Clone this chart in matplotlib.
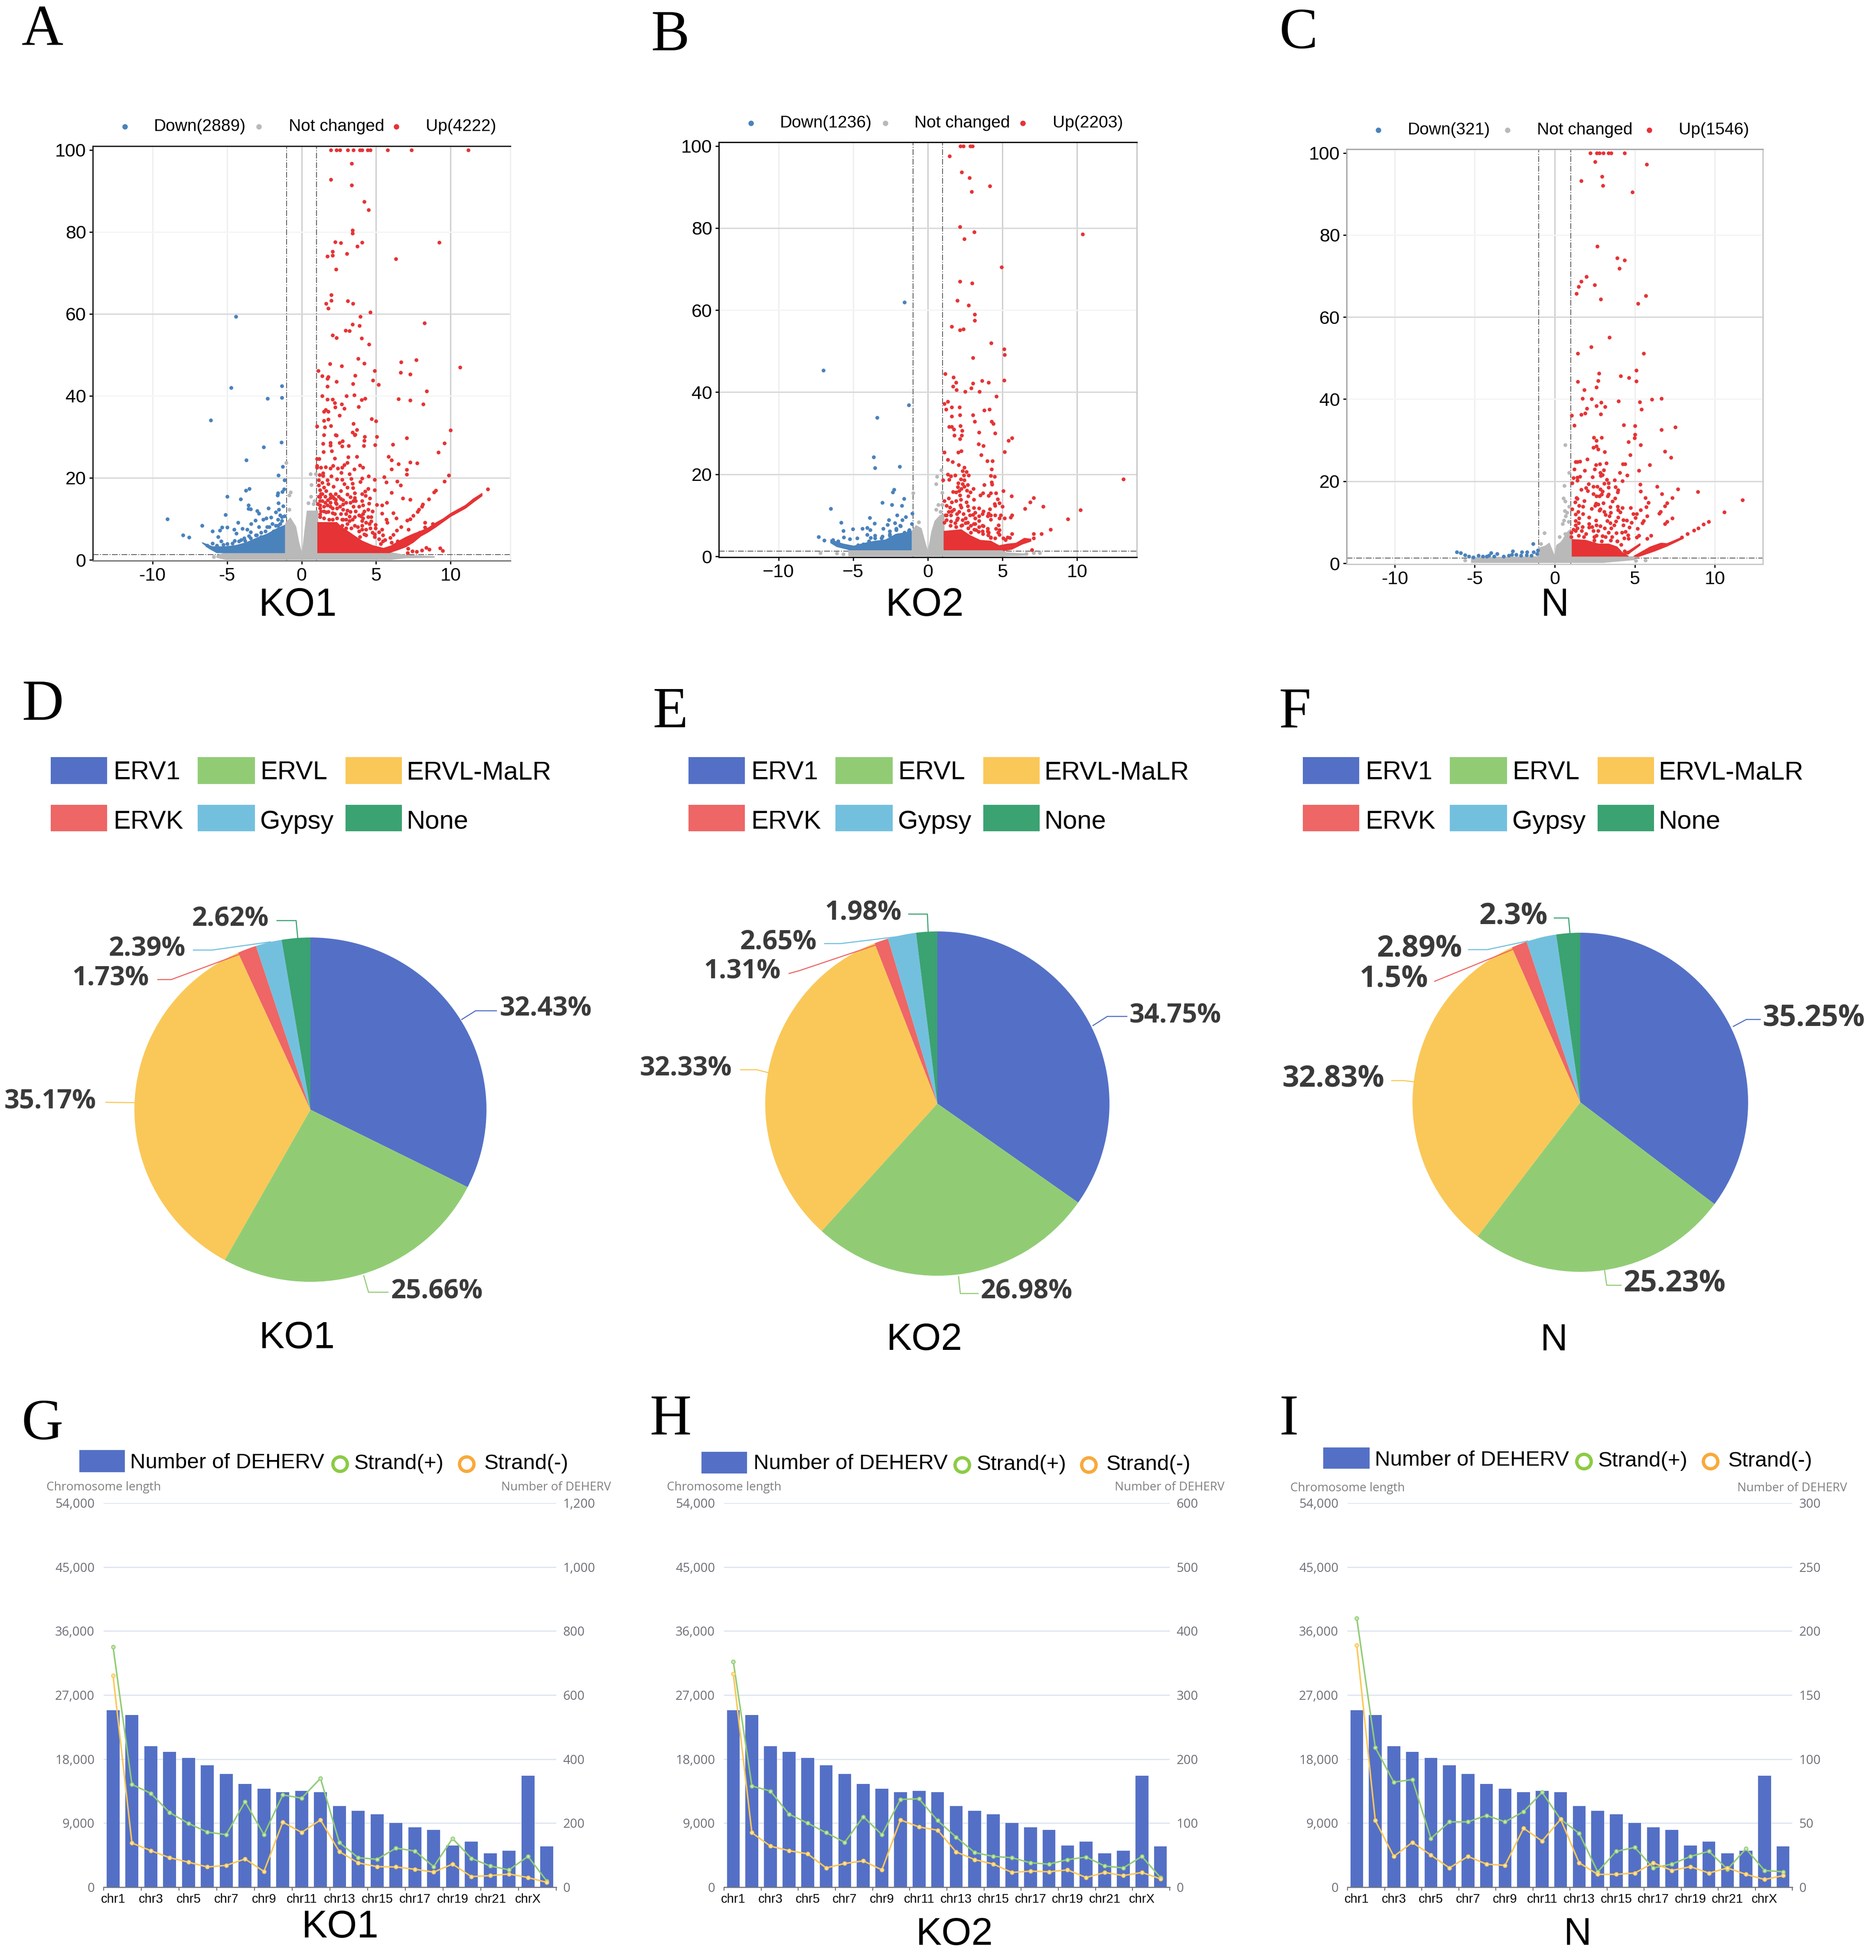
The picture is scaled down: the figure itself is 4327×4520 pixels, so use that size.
import numpy as np
import matplotlib
matplotlib.use("Agg")
import matplotlib.pyplot as plt
from matplotlib.lines import Line2D
from matplotlib.patches import Rectangle

W, H = 4327, 4520
SANS = ["Liberation Sans", "DejaVu Sans"]
plt.rcParams["font.family"] = SANS

BLUE, GREY, RED = "#4A82BC", "#B9B9B9", "#E63335"

# ---------- volcano data (log2FC, -log10 p) ----------
# KO1
ko1_top = [1.97, 2.33, 2.57, 3.1, 3.47, 3.9, 4.07, 4.43, 4.62, 5.78, 7.36, 11.17]
ko1_up = [(3.35,96.7),(1.97,92.8),(3.35,91.4),(4.19,87.4),(4.5,85.4),(3.42,80.4),(3.42,79.6),(2.24,77.5),(2.62,77.3),
    (4.07,77.4),(3.73,76.5),(9.24,77.4),(2.07,75.2),(2.07,74.3),(1.73,74),(3.03,74.7),(6.33,73.4),(2.31,70.9),(2.0,64.6),
    (2.0,63.2),(1.64,62.5),(1.8,61.3),(3.1,63.1),(3.44,62.5),(4.6,60.4),(3.95,59.3),(3.42,57.4),(3.87,57.1),(8.23,57.8),
    (2.94,56),(3.22,55.8),(2.07,54.8),(2.33,54.2),(4.02,54),(4.52,52.6),(3.78,49.1),(7.7,48.8),(6.67,48.2),(1.9,47.8),
    (4.21,47.9),(2.7,47.3),(10.64,47),(1.13,46.1),(1.37,44.9),(1.73,44.2),(1.78,44.6),(4.89,46.1),(6.64,45.7),(7.27,45.3),
    (3.59,45),(2.33,43.5),(4.79,43.8),(3.44,43),(5.15,42.7),(1.73,42.3),(8.4,41.1),(3.54,40.2),(3.0,40),(1.37,40),(4.26,39.3),
    (6.5,39.2),(7.27,38.9),(1.73,39.1),(2.09,39.1),(4.02,39),(2.21,38.3),(2.7,38),(8.16,38),(3.83,37.3),(2.86,36.9),(2.26,37.2),
    (1.61,36.6),(1.78,36.2),(1.49,36.2),(2.53,35.2),(4.69,34.4),(4.98,33.8),(1.8,34.3),(1.49,34),(3.47,33.2),(1.97,32.7),
    (1.56,32.4),(1.03,32.6),(9.99,31.6),(3.71,31.7),(3.42,31.1),(3.59,30.6),(2.33,30.4),(1.51,30.5),(2.28,30.5),(3.55,30.5),
    (4.22,30),(4.19,29.1),(5.04,30),(7.05,29.7),(9.58,28.5),(2.74,29),(2.54,28.6),(1.93,28.6),(1.44,28.4),(1.93,27.9),(2.71,27.7),
    (3.16,27.8),(4.16,27.8),(4.92,28),(6.11,28.1),(1.48,26.3),(2.02,26.6),(9.18,26.2),(1.02,24.7),(1.19,24.6),(2.21,24.8),
    (3.13,25.1),(3.72,25.2),(5.84,25.2),(6.04,24.3),(6.49,23.4),(7.29,23.8),(7.74,23.6),(3.06,23.7),(3.91,23.1),(4.12,22.5),
    (1.02,23),(1.02,22.5),(1.3,22.5),(1.62,22.6),(1.93,22.3),(2.1,23),(2.43,22.3),(2.71,22.5),(2.85,23.2),(3.53,22.1),(6.02,22.1),
    (7.05,22),(7.04,20.8),(9.86,20.6),(1.44,21.2),(2.67,21.3),(1.2,20.7),(1.44,20.5),(3.2,20.9),(2,20.4),(4.5,20.4),(5.53,20.2),
    (4.89,19.6),(3.34,19.8),(4.05,19.9),(2.36,19.7),(2.71,19.6),(1.16,19.5),(1.72,19.5),(9.58,19.2),(6.4,19.1),(5.67,18.9),(3.95,19),
    (1.37,18.8),(3.41,18.6),(2.85,18.5),(6.63,18.2),(1.79,18.5),(1.16,18.2),(2.14,17.9),(3.06,17.7),(3.46,17.6),(1.51,17.7),
    (4.47,17.4),(4.89,17),(4.26,16.7),(2.64,16.8),(1.23,17),(9.01,16.9),(8.87,16.5),(6.02,16.4),(3.55,16.3),(4.05,16.1),(1.93,16),
    (1.37,16.1),(3.06,16),(4.3,15.7),(2.64,14.9),(6.8,15),(4.58,15),(3.27,15.3),(3.55,15.1),(7.29,14.7),(8.53,14.8),(1.93,15.1),
    (1.23,15.3),(2.28,14.7),(2.78,14.6),(4.05,14.4),(3.62,14.4),(5.71,14),(4.51,13.8),(3.27,14),(1.93,14),(1.58,14),(1.09,13.7),
    (2.33,13.7),(2.78,13.5),(8.14,13.5),(4.12,13.3),(5.04,13.4),(5.39,13.3),(8.07,13),(3.48,13),(1.51,13),(1.93,13),(1.23,12.6),
    (2.36,12.6),(2.78,12.3),(3.06,12.1),(3.62,11.9),(4.47,12.3),(4.75,11.9),(7.79,11.8),(7.86,12.3),(1.65,11.6),(2.07,11.4),(5.39,11.3),
    (6.16,11.4),(4.12,11.2),(7.5,10.8),(1.23,11.1),(4.47,10.5),(3.98,10.7),(3.2,10.6),(3.55,10.5),(6.35,10.2),(7.29,10),(7.08,9.6),
    (5.67,9.8),(5.74,9.1),(4.68,9.4),(4.05,9.5),(3.2,9.5),(2.78,9.8),(2.07,9.8),(8.28,9.1),(8.8,8.8),(4.96,8.6),(4.54,8.8),(4.05,8.4),
    (3.55,8.4),(3.06,8.8),(8.28,7.9),(6.66,8.1),(5.39,7.4),(6.38,7.2),(7.18,7.4),(4.75,6.7),(5.18,6.8),(3.84,7),(4.33,7.4),(7.93,6.7),
    (5.46,6),(6.16,6.1),(5.95,5.4),(4.89,5.6),(4.33,6),(5.46,4.6),(8.35,3),(8.56,2.6),(8.07,2.3),(7.15,2.8),(7.43,2.1),(7.72,2),
    (7.12,1.75),(9.29,2.9),(9.46,2.2),(12.5,17.3),
    (1.23,14.4),(1.23,13.3),(1.3,11.9),(1.23,10.5),(1.51,11.9),(1.51,10.2),(1.72,13.3),(1.79,11.8),(1.86,9.8),(2.07,12.6),(2.21,11.2),
    (2.28,14),(2.36,10.2),(2.57,13),(2.64,11.2),(2.71,9.8),(2.99,11.2),(2.99,9.8),(3.27,11.8),(3.41,9.8),(3.84,10.9),(4.12,10.2),
    (1.3,16.1),(1.58,15.4),(2.07,15.4),(2.28,16.1),(1.65,16.8),(1.14,15.4),(1.39,14.4),(1.76,14.6),(2.18,15),(2.5,15.4),(2.99,14),
    (3.48,14.4),(3.84,13),(4.19,11.9),(4.68,10.5),(4.33,9.1),(4.96,7.7),(4.61,7.7),(3.76,8.1),(4.05,7.4),(3.34,7.7),(2.99,7.7),(2.71,8.4),
    (4.19,6.3),(3.9,5.6),(4.89,6.3),(5.18,5.1),(5.6,4.9),(5.32,3.9),(6.02,4.2),(6.45,4.6)]
ko1_down = [(-4.4,59.3),(-4.72,42),(-1.32,42.4),(-2.29,39.4),(-1.32,39.6),(-6.09,34.1),(-1.35,28.7),(-2.55,27.5),(-3.72,24.3),(-1.27,22.7),
    (-1.55,20.6),(-1.14,19.5),(-3.74,16.9),(-3.5,17.4),(-4.98,15.4),(-4.09,14.8),(-1.17,17.2),(-1.28,16.6),(-1.59,16.3),(-1.62,15.8),
    (-1.55,13.9),(-3.57,13.3),(-1.24,13.1),(-3.57,12.5),(-3.43,12.4),(-2.23,12.6),(-2.98,12),(-2.86,11.3),(-1.52,12.3),(-1.73,11.6),
    (-5.09,11),(-9.0,9.9),(-6.67,8.4),(-7.94,6),(-7.55,5.5),(-5.97,7),(-5.47,7.2),(-5.33,7.9),(-5.0,7.9),(-5.6,5.6),(-5.4,4.6),(-4.53,7.4),
    (-4.37,6.5),(-3.96,7.6),(-4.25,9.1),(-3.64,7.4),(-3.4,8.8),(-3.1,9.6),(-2.86,8),(-3.43,6.8),(-3.54,5.8),(-3.85,5.3),(-2.58,9.8),
    (-2.37,10.2),(-2.06,10.4),(-2.3,8.1),(-1.95,8.8),(-1.59,9.8),(-1.31,10.5),(-1.45,10.9),(-1.14,10.7),(-1.73,8.4),(-2.72,6.7),(-2.37,5.8),
    (-3.07,6),(-5.97,4),(-4.98,3.9),(-4.49,4.7),(-4.06,4.9),
    (-2.72,5.6),(-2.44,7),(-2.16,8.1),(-1.88,7),(-1.59,8.4),(-1.31,9.5),(-1.45,8.8),(-3,6),(-3.43,5.3),(-3.78,4.7),(-4.2,4.6),(-4.63,4),(-5.26,3.7),(-5.68,3.5),(-6.32,3.5)]
ko1_ns = [(.59,20.9),(.94,20.9),(.66,18.3),(.62,15.5),(-.75,16.5),(-.82,15.8),(-1.03,23.7),(-.82,12.3),(.45,13.9),(.8,13.7),(.87,14.4),(-5.9,.7)]
ko1_up_mass = [(1.09,1.75),(1.09,9.1),(2.36,9.1),(2.64,8.1),(3.48,6),(4.05,4.6),(4.75,3.5),(5.5,2.8),(6,3.4),(6.5,4.5),(7,5.5),(7.5,6.3),(8,7),(8.5,7.8),
    (9,9),(9.5,10),(10,11.3),(10.5,12.3),(11,13.3),(11.5,14.8),(12.1,16.2),(12.1,15.6),(11.5,14),(11,12.6),(10.5,11.6),(10,10.6),(9.5,9.3),(9,8),
    (8.5,6.8),(8,5.8),(7.5,4.3),(7,3.2),(6.5,2.5),(5.88,1.75)]
ko1_down_mass = [(-6.67,4.2),(-5.97,3.2),(-5.12,3.2),(-4.4,3.5),(-3.7,4.2),(-3,5.3),(-2.3,6.3),(-1.6,7.7),(-1.14,8.4),(-1.14,1.75),(-5.68,1.75),(-6.2,2.8)]
ko1_ns_mass = [(-5.68,.6),(-5.68,1.0),(-5.1,1.75),(-1.14,1.75),(-1.14,8),(-1.03,9.1),(-.75,10.2),(-.39,8.1),(-.18,4.2),(0,1.75),(.07,2.1),(.24,7.7),(.38,11.9),
    (1.09,11.9),(1.09,1.75),(6,1.75),(7,1.1),(8.9,.8),(8.9,.6),(7,.5),(6,.1),(-5.1,.1)]

# KO2
ko2_top = [2.19, 2.38, 2.84, 2.98]
ko2_up = [(1.44,97.5),(2.26,93.6),(2.79,92.2),(4.14,90.2),(2.94,88.9),(2.14,80.3),(3.1,79),(10.37,78.5),(2.45,77.3),(4.93,70.5),(2.14,67),(2.96,66.6),
    (1.97,62.3),(2.72,61.2),(3.15,59),(3.13,57.5),(1.61,56),(2.14,55.2),(2.38,55.4),(4.24,52),(5.1,50.5),(5.15,49.1),(3.01,48.4),(1.16,44.5),(1.71,43.6),
    (1.9,42.4),(3.01,42.2),(3.63,42.8),(4.07,42.4),(5.1,42.9),(1.68,41.4),(1.93,40.6),(2.91,41),(2.5,40.2),(3.47,40.2),(4.6,39),(1.35,37.7),(1.11,37.2),
    (1.59,36.4),(1.23,35.8),(2.12,36.4),(3.78,35.6),(4.12,35.8),(1.61,34.1),(2.14,34.5),(3.03,34.4),(3.13,32.9),(4.26,32.9),(4.38,32.3),(1.42,31.6),(1.61,31.6),
    (2.17,31.8),(1.73,31),(2.29,30.7),(3.42,30.2),(4.5,30),(1.76,29.5),(2.26,29.5),(2.14,28.6),(5.63,28.9),(5.39,28.2),(3.39,27.4),(3.73,27),(1.11,25.4),(2.02,25.4),
    (2.24,25.7),(5.13,25.5),(3.56,24.7),(1.35,23.6),(1.66,23),(3.97,23.3),(4.33,23.2),(2.05,22.3),(4.28,21.2),(2.43,21.7),(2.33,20.8),(2.58,20.6),(13.1,18.8),
    (1.33,20),(1.54,19.6),(1.82,19.8),(2.41,19.8),(2.74,19.8),(4.22,19.7),(4.46,19.5),(1.02,18.6),(1.42,18.7),(2.2,18.8),(2.45,18.6),(2.03,17.9),(4.26,18.1),(3.77,17.4),
    (4.29,17.5),(2.31,17.7),(2.67,17.4),(2.45,17),(1.99,16.9),(2.24,16.5),(3.05,16.5),(2.6,16.1),(2.1,16),(5.04,16),(1.68,15.8),(1.89,15.6),(2.84,15.6),(3.68,15.4),(4.22,15.4),
    (4.57,15.4),(3.51,14.9),(2.14,14.9),(2.69,14.7),(4.08,14.8),(5.6,14.7),(7.08,14.3),(1.4,14.2),(4.68,14),(3.09,13.9),(2.2,13.8),(1.11,13.5),(1.89,13.5),(1.61,13.2),(6.85,13.2),
    (2.58,13.2),(4.78,13),(4.46,12.8),(2.17,12.5),(2.67,12.3),(1.26,12.4),(4.5,12.4),(5.01,12.2),(7.73,12.2),(1.47,11.9),(2.24,11.9),(3.44,11.7),(3.09,11.8),(6.5,11.6),(10.21,11.3),
    (1.75,11.4),(4.15,11.5),(1.4,10.9),(2.1,10.9),(2.74,11.2),(3.16,10.7),(3.72,11),(4.08,10.5),(1.18,10),(1.54,10),(2.81,10),(3.44,9.8),(4.22,10),(4.5,10),(4.88,10),(5.63,10),
    (5.56,9.5),(5.13,9.3),(4.78,9.3),(4.22,9),(2,9.3),(2.31,8.9),(3.16,9.3),(3.44,8.7),(9.37,9.1),(1.11,8.2),(1.82,8.1),(2.52,8.1),(4.74,7.6),(3.09,7.9),(3.65,7.5),(4.01,6.8),
    (4.57,6.8),(4.78,6.5),(8.21,6.6),(4.08,5.8),(4.71,5.8),(7.08,5.5),(7.62,5.5),(5.63,5.5),(4.78,5.3),(5.35,4.7),(5.06,4.4),(7.08,4.5),(4.22,4.6),(6.97,1.6),
    (1.5,7.5),(1.9,7.2),(2.3,7.6),(2.7,6.9),(3.1,6.6),(3.4,6),(3.7,5.5),(4.05,5.2),
    (1.26,8.9),(1.54,8.6),(1.96,8.9),(2.24,7.5),(2.67,8.2),(2.88,7.5),(3.16,7.9),(3.44,7.2),(3.72,7.4),(4.01,6.1),(3.65,6.1),(3.23,6.5),(2.88,5.8),(4.22,4.7),(4.5,4.4),(5.2,4),(5.49,4.6),
    (1.26,10),(1.61,11),(1.96,10.4),(2.38,10.4),(2.52,9.3),(3.02,10.2),(3.65,10.4),(4.01,9.8)]
ko2_down = [(-1.56,61.9),(-7,45.3),(-1.28,36.9),(-3.39,33.8),(-3.63,24.2),(-3.54,21.6),(-1.9,21.9),(-2.27,16.3),(-2.34,15.6),(-1.59,14.1),(-3.05,13.1),(-2.41,12.6),(-1.75,12.4),
    (-6.5,11.6),(-1.04,10.5),(-2.06,10),(-1.47,9.6),(-3.89,9.4),(-1.71,8.9),(-2.62,8.9),(-5.8,8.2),(-3.57,8),(-2.2,8.1),(-2.69,7.7),(-1.07,7.9),(-5.02,6.7),(-4.39,6.8),(-4.08,7),
    (-3.86,6.5),(-2.98,6.8),(-1.82,7.4),(-2.13,6.5),(-5.66,6.2),(-2.55,6.1),(-1.26,6.5),(-7.32,4.8),(-6.95,3.9),(-5.63,4.7),(-5.23,4.2),(-4.74,4.4),(-4.08,5.3),(-3.54,5.1),(-3.05,4.9),
    (-3.82,4.6),(-2.55,5.4),
    (-2.55,5.1),(-2.13,6.8),(-1.85,7.5),(-1.57,5.8),(-1.28,6.1),(-3.54,4.4),(-3.12,4.4),(-3.96,3.7),(-4.32,3),(-4.67,2.8),(-6.36,4),(-6,3.7)]
ko2_ns = [(.9,21),(.62,19.5),(.55,17.7),(.97,15.5),(-1,15.4),(.69,12.6),(.97,12.6),(.55,11.4),(.83,10.9),(-.61,8.4),(-7.2,.9),(-6.1,.7),(-5.65,.5),(7.1,.9),(7.5,.9),(6.6,.6)]
ko2_up_mass = [(1.09,1.6),(1.09,6.1),(2.24,6.5),(2.81,5.1),(3.51,3.9),(4.22,3.7),(4.78,2.6),(5.35,3),(5.91,3.2),(6.47,4.4),(6.9,4.2),(6.9,3.7),(6.33,3),(5.63,1.75),(5.06,1.4),(5.06,1.6)]
ko2_down_mass = [(-6.5,4),(-5.66,3),(-4.95,2.5),(-4.25,3.2),(-3.54,3.7),(-2.83,4),(-2.13,5.4),(-1.42,5.8),(-1.11,6.1),(-1.11,1.6),(-5.23,1.6),(-6.1,2.4),(-6.5,3.3)]
ko2_ns_mass = [(-5.3,.1),(-5.3,1.6),(-1.07,1.6),(-1.07,6.1),(-.79,7.5),(-.44,6.8),(-.16,3),(0,1.2),(.06,1.9),(.27,6.1),(.48,8.6),(.83,10),(1.09,10.3),(1.09,1.6),(5.1,1.6),(5.2,.9),(6.5,.6),(6.5,.3),(5.1,.1)]

# N
n_top = [2.21, 2.62, 2.8, 3.02, 3.36, 3.53, 4.36]
n_up = [(2.51,97.8),(5.73,97.2),(1.66,93.2),(2.95,94.2),(3,92),(4.85,90.4),(2.66,77.2),(3.89,74.4),(4.36,73.9),(4.03,71.9),(1.99,69.8),(1.66,68.7),(1.5,67.4),(2.48,67.8),(1.36,65.7),
    (5.68,65.2),(2.86,64.4),(5.19,63.3),(3.42,55.1),(2.28,52.7),(1.43,51.1),(5.55,51.1),(5.1,47),(2.77,46.3),(4.12,45.7),(4.63,45.2),(2.71,44.5),(1.43,44.3),(5.1,44.4),(2.6,42.9),(1.83,42.3),
    (1.72,40.2),(2.3,40),(6.08,39.9),(6.67,40.2),(3.98,39.5),(2.91,39.2),(5.3,39.3),(2.6,38.4),(3.15,38.1),(5.41,37.5),(2.01,37.7),(1.9,36.6),(1.66,36.2),(2.86,36.4),(1.05,36),(1.23,33.6),
    (4.3,33.7),(5.01,33.5),(7.52,33.2),(6.67,32.6),(5,31.4),(2.43,30.7),(2.92,30.6),(2.59,29.9),(4.97,30.5),(4.6,29.6),(5.36,28.8),(2.4,28.2),(2.59,28.5),(2.72,27.8),(3.11,27.2),(6.89,27.3),
    (4.7,26.4),(7.25,25.8),(2.04,25.4),(1.29,24.7),(1.42,24.7),(1.58,24.8),(3.22,24.4),(2.57,24),(2.83,24.2),(4.24,24.2),(4.39,24.2),(5.94,24),(1.22,22.9),(1.88,22.6),(2.5,22.9),(3.05,22.7),
    (5.25,22.6),(4.05,22.1),(2.85,22.1),(2.98,21.6),(2.88,21.4),(4.52,21.5),(1.58,21.1),(1.42,20.9),(1.16,20.8),(2.36,21),(1.42,20.2),(3.24,20.4),(3.74,20.3),(4.23,20.1),(1.07,19.6),(3.09,19.5),
    (3.37,19.6),(2.11,19.3),(5.33,19.2),(6.38,18.7),(2.4,18.7),(2.66,18.7),(3.37,18.5),(3.79,18.6),(7.7,18.1),(1.94,18.4),(2.85,18.1),(1.65,18),(2.07,17.7),(3.96,17.9),(5.36,17.6),(2.98,17.5),
    (8.95,17.4),(3.92,17.3),(6.68,16.9),(2.4,16.9),(2.92,16.8),(3.37,16.8),(2.59,16.4),(2.79,16.4),(3.31,16.4),(1.35,16),(5.65,16),(7.33,16),(3.76,15.9),(1.42,15.8),(11.74,15.4),(1.84,15.2),
    (3.61,15.1),(1.26,14.9),(5.86,14.8),(7.02,14.7),(3.02,14.7),(2.57,14.6),(2.72,14.4),(2.53,14.1),(1.52,14.1),(1.77,13.9),(6.89,14),(3.93,13.9),(5.72,13.7),(3.46,13.7),(4.22,13.5),(4.74,13.5),
    (3.96,13),(2.29,13.3),(1.09,13.2),(2.85,13.2),(5.36,13),(2.79,12.9),(1.46,12.6),(3.09,12.6),(6.6,12.6),(4.09,12.5),(10.6,12.5),(3.5,12.4),(1.29,11.9),(4.9,12.1),(5.13,12.1),(1.77,12.1),
    (6.52,12.2),(3.18,11.8),(3.4,11.5),(5.77,11.5),(3.96,11.2),(2.14,11.2),(5.04,11.1),(7.33,11),(1.51,11),(2.57,10.5),(4.28,10.6),(4.5,10.5),(3.83,10.3),(3.28,10.4),(5.55,10.4),(9.62,10.2),
    (7.02,10.2),(6.89,9.6),(3.46,9.8),(4.8,9.9),(5.46,9.8),(3.7,9.3),(4.28,9.3),(9.3,9.5),(4.67,8.8),(3.53,8.6),(5.17,8.5),(4.41,7.7),(3.85,7.4),(4.19,7.5),(4.57,6.9),(6.02,6.8),(5.26,6.8),
    (4.34,6.1),(5.13,6.3),(5.78,6),(3.89,5.4),(4.6,6),(1.29,10.4),(1.48,9.8),(1.29,9.3),(1.74,8.9),(1.42,8.6),(1.16,8.2),(1.03,7.5),(1.29,7.9),(1.68,7.9),(1.94,7.2),(1.03,6.5),(1.48,6.8),(1.81,6.5),
    (2.14,9.6),(2.33,8.9),(2.59,9.3),(2.85,9.1),(3.11,8.6),(3.37,7.5),(3.57,6.5),(2.14,8.8),(2.4,7.9),(2.72,7.9),(3.18,6.5),(2.46,6.5),(2.59,6.8),(2.98,6.7),(3.5,5.6),(3.89,5.4),(2.46,5.6),(2.92,5.4),
    (4.15,4.6),(4.35,3),(4.54,2.6),(7.93,6.3),(8.3,7.2),(8.7,8),(8.97,8.6)]
n_down = [(-6.13,2.8),(-5.87,2.5),(-5.61,2),(-5.35,1.65),(-5.09,1.5),(-4.77,1.9),(-4.5,1.7),(-4.24,1.75),(-3.98,2.5),(-4.11,1.9),(-3.59,2.3),(-3.79,1.75),(-3.2,1.75),(-2.88,1.9),(-2.63,3),(-2.68,2.1),
    (-2.42,2.1),(-2.07,2.8),(-2.1,1.9),(-1.73,2.8),(-1.77,2),(-1.32,2.8),(-1.35,4.8),(-1.45,1.9),(-1.12,2.3),(-1.05,3.2)]
n_ns = [(.64,28.8),(.6,18.9),(.9,22.1),(.53,15.9),(.66,15.1),(.61,12.8),(.77,12.4),(.68,11.5),(.57,10.5),(.87,10.2),(.48,9.6),(.9,13.9),(-.66,7.4),(.31,6.5),(.64,7.2),(-.86,4.8),(5.07,.6),(5.65,.7),(-5.6,.7)]
n_up_mass = [(1.09,1.75),(1.09,5.8),(1.94,5.6),(2.72,4.7),(3.37,4.7),(3.89,4),(4.22,2.6),(4.6,1.75)]
n_tail = [(4.93,1.7),(5.98,4),(6.63,4.9),(7.02,4.8),(7.93,6.3),(7.93,5.9),(7.02,4.2),(6.24,3),(5.2,1.6)]
n_streak = [(4.35,2.3),(5.33,4.8),(5.33,4.4),(4.6,2.3)]
n_ns_mass = [(-5.2,.2),(-5.2,1.4),(-1.05,1.6),(-1,3.7),(-.6,4.2),(-.34,4.9),(-.14,3),(0,1.6),(.12,4.4),(.38,5.1),(.51,5.8),(.77,7.5),(.96,8.2),(1.05,6.5),(1.09,1.7),(4.9,1.6),(5,.9),(3,.2)]

# ---------- pie data ----------
pie_names = ["ERV1", "ERVL", "ERVL-MaLR", "ERVK", "Gypsy", "None"]
pie_colors = ["#5470C6", "#91CC75", "#FAC858", "#EE6666", "#73C0DE", "#3BA272"]
pie_ko1 = [32.43, 25.66, 35.17, 1.73, 2.39, 2.62]
pie_ko2 = [34.75, 26.98, 32.33, 1.31, 2.65, 1.98]
pie_n = [35.25, 25.23, 32.83, 1.5, 2.89, 2.3]

# ---------- chromosome data ----------
chroms = ["chr%d" % i for i in range(1, 23)] + ["chrX", "chrY"]
chrom_len = [24850, 24210, 19810, 19020, 18180, 17140, 15910, 14520, 13830, 13340, 13540, 13340,
             11410, 10720, 10230, 9040, 8400, 8050, 5880, 6420, 4740, 5090, 15660, 5730]
ko1_plus = [751, 321, 293, 233, 199, 172, 164, 267, 164, 288, 278, 340, 139, 92, 87, 122, 113, 64, 152, 90, 66, 54, 96, 19]
ko1_minus = [661, 138, 114, 92, 78, 63, 68, 88, 49, 203, 171, 210, 111, 76, 64, 63, 56, 47, 72, 33, 36, 41, 30, 15]
ko2_plus = [352, 158, 150, 114, 100, 85, 70, 110, 82, 137, 138, 104, 78, 54, 48, 46, 38, 36, 43, 47, 33, 30, 48, 15]
ko2_minus = [333, 85, 64, 57, 52, 30, 37, 41, 27, 105, 94, 89, 55, 43, 36, 23, 25, 24, 27, 15, 23, 18, 23, 13]
n_plus = [210, 109, 82, 84, 38, 51, 51, 56, 51, 59, 74, 53, 42, 12, 28, 31, 15, 18, 24, 28, 14, 30, 13, 12]
n_minus = [189, 52, 24, 35, 25, 15, 24, 18, 17, 46, 36, 53, 19, 10, 10, 11, 19, 13, 16, 11, 15, 10, 6, 9]

fig = plt.figure(figsize=(W / 100, H / 100), dpi=100)


def fx(x):
    return x / W


def fy(y):
    return 1 - y / H


def axes_px(left, top, right, bottom):
    return fig.add_axes([fx(left), fy(bottom), (right - left) / W, (bottom - top) / H])


def put_text(x, y, s, size, ha="left", va="center", **kw):
    fig.text(fx(x), fy(y), s, fontsize=size, ha=ha, va=va, **kw)


def put_line(xs, ys, color, lw=2.0):
    fig.add_artist(Line2D([fx(v) for v in xs], [fy(v) for v in ys], color=color, lw=lw, transform=fig.transFigure))


def put_rect(x0, y0, x1, y1, color):
    fig.add_artist(Rectangle((fx(x0), fy(y1)), (x1 - x0) / W, (y1 - y0) / H, color=color, lw=0, transform=fig.transFigure))


def put_dot(x, y, color, size=10, mfc=None, mew=0):
    fig.add_artist(Line2D([fx(x)], [fy(y)], marker="o", ms=size, color=color, mfc=mfc or color, mew=mew, ls="none", transform=fig.transFigure))


# panel letters
for s, x, y in [("A", 98, 70), ("B", 1546, 84), ("C", 2995, 78), ("D", 98, 1627), ("E", 1546, 1645), ("F", 2986, 1645),
                ("G", 98, 3286), ("H", 1546, 3275), ("I", 2972, 3275)]:
    put_text(x, y, s, 96, ha="center", family=["Liberation Serif"])


def volcano(box, lim, up, top, down, ns, up_polys, down_polys, ns_poly, strong_x, strong_y, spine_colors, minus, title, title_xy, legend):
    ax = axes_px(*box)
    ax.set_xlim(-lim, lim)
    ax.set_ylim(-0.2, 100.9)
    for v in [-10, -5, 0, 5, 10]:
        ax.axvline(v, color="#CFCFCF" if v in strong_x else "#EFEFEF", lw=2.2, zorder=0)
    for v in [20, 40, 60, 80]:
        ax.axhline(v, color="#D8D8D8" if v in strong_y else "#F5F5F5", lw=2.2, zorder=0)
    for v in [-1, 1]:
        ax.axvline(v, color="#666666", lw=1.5, ls="-.", zorder=1)
    ax.axhline(1.3, color="#666666", lw=1.5, ls="-.", zorder=1)

    ax.fill(*zip(*ns_poly), color=GREY, lw=1.5, zorder=2)
    for poly in down_polys:
        ax.fill(*zip(*poly), color=BLUE, lw=1.5, zorder=3)
    for poly in up_polys:
        ax.fill(*zip(*poly), color=RED, lw=1.5, zorder=3)
    ax.scatter(*zip(*ns), s=40, color=GREY, lw=0, zorder=2, clip_on=False)
    ax.scatter(*zip(*down), s=40, color=BLUE, lw=0, zorder=3)
    ax.scatter(*zip(*up), s=40, color=RED, lw=0, zorder=3)
    ax.scatter(top, [100] * len(top), s=40, color=RED, lw=0, zorder=3)

    ax.set_xticks([-10, -5, 0, 5, 10])
    ax.set_xticklabels([("\u2212%d" % -v if minus else "-%d" % -v) if v < 0 else str(v) for v in [-10, -5, 0, 5, 10]])
    ax.set_yticks([0, 20, 40, 60, 80, 100])
    ax.tick_params(labelsize=31, length=6, width=2, pad=5)
    for side, c in spine_colors.items():
        ax.spines[side].set_color(c)
        ax.spines[side].set_linewidth(2.2)

    put_text(title_xy[0], title_xy[1], title, 65, ha="center")
    dots, texts, y, labels = legend
    for d, c in zip(dots, [BLUE, GREY, RED]):
        put_dot(d, y, c, size=9)
    for t, s in zip(texts, labels):
        put_text(t - 3, y, s, 28)


volcano((214, 337, 1177, 1293), 14, ko1_up, ko1_top, ko1_down, ko1_ns, [ko1_up_mass], [ko1_down_mass], ko1_ns_mass,
        [0, 5, 10], [20, 60], {"left": "#222222", "top": "#222222", "bottom": "#777777", "right": "#EEEEEE"}, False,
        "KO1", (687, 1396), ([288, 597, 914], [358, 669, 985], 292, ["Down(2889)", "Not changed", "Up(4222)"]))
volcano((1658, 328, 2622, 1285), 14, ko2_up, ko2_top, ko2_down, ko2_ns, [ko2_up_mass], [ko2_down_mass], ko2_ns_mass,
        [0, 5, 10], [20, 40, 80], {"left": "#111111", "top": "#111111", "bottom": "#111111", "right": "#C8C8C8"}, True,
        "KO2", (2133, 1396), ([1732, 2042, 2359], [1802, 2112, 2431], 284, ["Down(1236)", "Not changed", "Up(2203)"]))
volcano((3106, 344, 4066, 1301), 13, n_up, n_top, n_down, n_ns, [n_up_mass, n_tail, n_streak], [], n_ns_mass,
        [0], [20, 60], {"left": "#A8A8A8", "top": "#A8A8A8", "bottom": "#C8C8C8", "right": "#C8C8C8"}, False,
        "N", (3586, 1396), ([3179, 3477, 3804], [3250, 3548, 3875], 300, ["Down(321)", "Not changed", "Up(1546)"]))


def pie_panel(values, cx, cy, rx, ry, label_pos, leaders, size, legend_dx, title, title_xy):
    ax = axes_px(cx - rx - 4, cy - ry - 3, cx + rx - 4, cy + ry - 3)
    ax.pie(values, colors=pie_colors, startangle=90, counterclock=False, radius=1, wedgeprops={"linewidth": 0})
    ax.set_xlim(-1, 1)
    ax.set_ylim(-1, 1)
    ax.set_aspect("auto")
    for v, (x, y), path, c in zip(values, label_pos, leaders, pie_colors):
        put_text(x - 5, y + 3, "%g%%" % v, size, ha="center", family=["Open Sans"], fontweight="bold", color="#3A3A3A")
        put_line(path[0], path[1], c, lw=1.8)
    cols = [(117, 247, 261), (456, 588, 600), (797, 927, 937)]
    for i, name in enumerate(pie_names):
        col = cols[i % 3]
        row = i // 3
        y0, y1 = (1746, 1808) if row == 0 else (1856, 1917)
        put_rect(col[0] + legend_dx, y0, col[1] + legend_dx, y1, pie_colors[i])
        put_text(col[2] + legend_dx, (1782, 1895)[row], name, 43)
    put_text(title_xy[0] - 3, title_xy[1], title, 63, ha="center")


pie_panel(pie_ko1, 720, 2562, 406, 397,
          [(1264, 2324), (1013, 2976), (121, 2538), (260, 2254), (344, 2186), (536, 2117)],
          [([1065, 1097, 1145], [2351, 2331, 2331]), ([839, 850, 895], [2942, 2980, 2980]), ([314, 244], [2543, 2542]),
           ([557, 395, 364], [2199, 2259, 2259]), ([624, 489, 446], [2172, 2191, 2191]), ([687, 683, 639], [2166, 2123, 2123])],
          44, 0, "KO1", (688, 3086))
pie_panel(pie_ko2, 2166, 2548, 397, 397,
          [(2716, 2340), (2373, 2976), (1587, 2462), (1717, 2238), (1800, 2171), (1996, 2103)],
          [([2521, 2554, 2599], [2365, 2344, 2344]), ([2211, 2215, 2256], [2944, 2983, 2983]), ([1773, 1746, 1708], [2474, 2467, 2467]),
           ([2024, 1845, 1820], [2178, 2238, 2245]), ([2087, 1939, 1902], [2158, 2176, 2176]), ([2141, 2139, 2096], [2151, 2108, 2108])],
          44, 1471, "KO2", (2135, 3091))
pie_panel(pie_n, 3649, 2545, 387, 391,
          [(4188, 2345), (3867, 2957), (3080, 2484), (3220, 2255), (3279, 2184), (3495, 2110)],
          [([3998, 4028, 4060], [2367, 2351, 2351]), ([3701, 3706, 3739], [2930, 2964, 2964]), ([3264, 3237, 3210], [2495, 2492, 2492]),
           ([3493, 3309], [2188, 2263]), ([3524, 3430, 3387], [2170, 2190, 2190]), ([3621, 3618, 3585], [2151, 2117, 2117])],
          49, 2888, "N", (3587, 3091))


def bar_panel(left, right, plus, minus, rmax, rect, text_x, leg_y, marks, title, title_xy, name_y=3430):
    ax = axes_px(left, 3466, right, 4352)
    x = np.arange(len(chroms))
    ax.bar(x, chrom_len, width=0.69, color="#5470C6", zorder=2)
    ax.set_xlim(-0.5, len(chroms) - 0.5)
    ax.set_ylim(0, 54000)
    ax.set_yticks(np.arange(0, 54001, 9000))
    ax.set_yticklabels(["{:,}".format(v) for v in range(0, 54001, 9000)], family=["Open Sans"], color="#6E7079")
    ax.grid(axis="y", color="#E0E6F1", lw=2.2, zorder=0)
    ax.set_xticks(np.arange(-0.5, len(chroms), 2))
    ax.set_xticklabels([])
    ax.set_xticks(x[::2], chroms[::2], minor=True)
    ax.tick_params(axis="x", which="major", length=6, width=1.5, color="#6E7079")
    ax.tick_params(axis="x", which="minor", length=0, labelsize=21, pad=10)
    ax.tick_params(axis="y", length=0, labelsize=21, pad=15)
    for side in ["left", "right", "top"]:
        ax.spines[side].set_visible(False)
    ax.spines["bottom"].set_color("#6E7079")
    ax.spines["bottom"].set_linewidth(1.8)

    ax2 = ax.twinx()
    ax2.set_ylim(0, rmax)
    ax2.set_yticks(np.linspace(0, rmax, 7))
    ax2.set_yticklabels(["{:,}".format(int(v)) for v in np.linspace(0, rmax, 7)], family=["Open Sans"], color="#6E7079")
    ax2.tick_params(axis="y", length=0, labelsize=21, pad=11)
    for s in ax2.spines.values():
        s.set_visible(False)
    ax2.plot(x, plus, color="#91CC75", lw=2.5, marker="o", ms=6, mfc="#C8E6B4", mec="#91CC75", mew=1.5, zorder=3)
    ax2.plot(x, minus, color="#FAC858", lw=2.5, marker="o", ms=6, mfc="#FCE3A8", mec="#FAC858", mew=1.5, zorder=4)

    put_rect(rect[0], rect[1], rect[2], rect[3], "#5470C6")
    put_text(text_x, leg_y, "Number of DEHERV", 35.5)
    put_dot(marks[0] - 5, leg_y + 2, "#8CCB45", size=24, mfc="white", mew=5.5)
    put_text(marks[1] - 5, leg_y + 2, "Strand(+)", 35.5)
    put_dot(marks[2] - 5, leg_y + 2, "#F9A93A", size=24, mfc="white", mew=5.5)
    put_text(marks[3] - 5, leg_y + 2, "Strand(-)", 35.5)
    put_text(left, name_y, "Chromosome length", 20, ha="center", family=["Open Sans"], color="#808080")
    put_text(right, name_y, "Number of DEHERV", 20, ha="center", family=["Open Sans"], color="#808080")
    put_text(title_xy[0], title_xy[1], title, 64, ha="center")


bar_panel(239, 1283, ko1_plus, ko1_minus, 1200, (183, 3344, 288, 3395), 300, 3374, (789, 822, 1081, 1122), "KO1", (785, 4445))
bar_panel(1670, 2698, ko2_plus, ko2_minus, 600, (1618, 3348, 1723, 3398), 1738, 3376, (2224, 2258, 2516, 2557), "KO2", (2202, 4462))
bar_panel(3108, 4134, n_plus, n_minus, 300, (3052, 3338, 3159, 3387), 3171, 3368, (3658, 3691, 3950, 3991), "N", (3639, 4462), name_y=3432)

fig.savefig("out.png", dpi=100)
